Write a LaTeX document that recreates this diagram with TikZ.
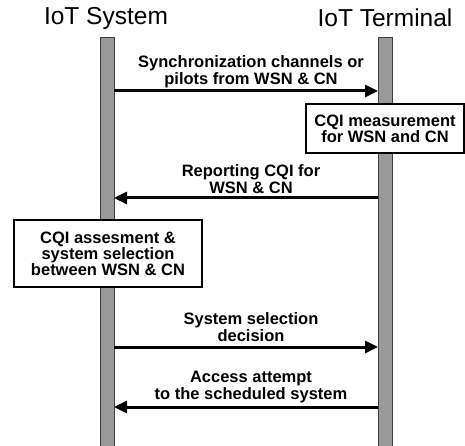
\documentclass[tikz,border=0pt]{standalone}
\usepackage{fontspec}
\setmainfont{Liberation Sans}
\usetikzlibrary{arrows.meta}

\begin{document}
\begin{tikzpicture}[x=1pt,y=-1pt,
    lifeline/.style={fill=gray!80, draw=gray!50!black, line width=0.7pt},
    msg/.style={line width=3pt, -{Triangle[length=13pt,width=12pt]}},
    msgtext/.style={font=\bfseries\fontsize{16.5}{17}\selectfont, align=center, inner sep=0pt},
    procbox/.style={draw, line width=2.2pt, fill=white, align=center,
        font=\bfseries\fontsize{16.5}{16}\selectfont, inner sep=0pt}]

    \useasboundingbox (0,0) rectangle (465,446);

    % lifelines
    \node [font=\fontsize{24.5}{26}\selectfont] (sys) at (106,18) {IoT System};
    \node [font=\fontsize{24.5}{26}\selectfont] (term) at (385,18) {IoT Terminal};
    \foreach \x in {100,378}
        \draw [lifeline] (\x,37) rectangle (\x+14,447);

    \coordinate (L1) at (114,91);  \coordinate (R1) at (378,91);
    \coordinate (L2) at (114,198); \coordinate (R2) at (378,198);
    \coordinate (L3) at (114,347); \coordinate (R3) at (378,347);
    \coordinate (L4) at (114,407); \coordinate (R4) at (378,407);

    % messages
    \draw [msg] (L1) -- (R1);
    \node [msgtext] (m1) at (251,72) {Synchronization channels or\\pilots from WSN \& CN};

    \node [procbox, minimum width=158pt, minimum height=49pt] (meas) at (385,128.5)
        {CQI measurement\\for WSN and CN};

    \draw [msg] (R2) -- (L2);
    \node [msgtext] (m2) at (251,179) {Reporting CQI for\\WSN \& CN};

    \node [procbox, minimum width=188pt, minimum height=67pt] (assess) at (108,253.5)
        {CQI assesment \&\\system selection\\between WSN \& CN};

    \draw [msg] (L3) -- (R3);
    \node [msgtext] (m3) at (251,327) {System selection\\decision};

    \draw [msg] (R4) -- (L4);
    \node [msgtext] (m4) at (251,387) {Access attempt\\to the scheduled system};

\end{tikzpicture}
\end{document}
